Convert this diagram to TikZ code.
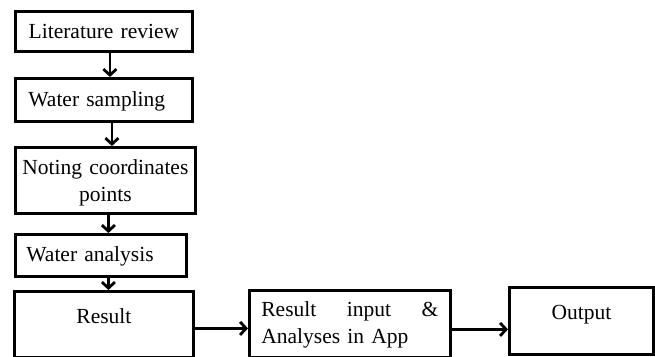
\documentclass[tikz,border=0pt]{standalone}
\usepackage{fontspec}
\setmainfont{Liberation Serif}
\usetikzlibrary{arrows.meta}

\begin{document}
\begin{tikzpicture}[
  x=1pt, y=-1pt,
  box/.style={draw=black, line width=2.8pt, inner xsep=0pt, inner ysep=0pt, anchor=north west, font=\fontsize{21.5}{27}\selectfont},
  flow/.style={-{Straight Barb[length=6pt,width=13pt]}, line width=2.8pt}
]
\useasboundingbox (0,0) rectangle (655,356);

\node[box, text width=177pt, align=center, text height=27pt, text depth=13pt] (lit) at (14,10) {Literature review};
\node[box, text width=151pt, inner xsep=13pt, align=left, text height=28pt, text depth=15pt] (samp) at (14,77) {Water sampling};
\node[box, text width=180pt, align=center, text height=27pt, text depth=39pt] (coord) at (14,146) {Noting coordinates\\points};
\node[box, text width=149pt, inner xsep=11pt, align=left, text height=27pt, text depth=15pt] (ana) at (14,233) {Water analysis};
\node[box, text width=179pt, align=center, text height=32pt, text depth=34pt] (res) at (13,290) {Result};
\node[box, text width=177pt, inner xsep=12pt, align=left, text height=26pt, text depth=41pt] (app) at (248,289) {Result\hfill input\hfill\&\\Analyses in App};
\node[box, text width=144pt, align=center, text height=32pt, text depth=35pt] (out) at (508,286) {Output};

% vertical chain
\draw[flow] ([xshift=6pt]lit.south) -- ([xshift=6pt]lit.south |- samp.north);
\draw[flow] ([xshift=8pt]samp.south) -- ([xshift=8pt]samp.south |- coord.north);
\draw[flow] ([xshift=3pt]coord.south) -- ([xshift=3pt]coord.south |- ana.north);
\draw[flow] ([xshift=7.5pt]ana.south) -- ([xshift=7.5pt]ana.south |- res.north);
% horizontal chain
\draw[flow] ([yshift=-4pt]res.east) -- ([yshift=-4pt]res.east -| app.west);
\draw[flow] ([yshift=-5.5pt]app.east) -- ([yshift=-5.5pt]app.east -| out.west);
\end{tikzpicture}
\end{document}
